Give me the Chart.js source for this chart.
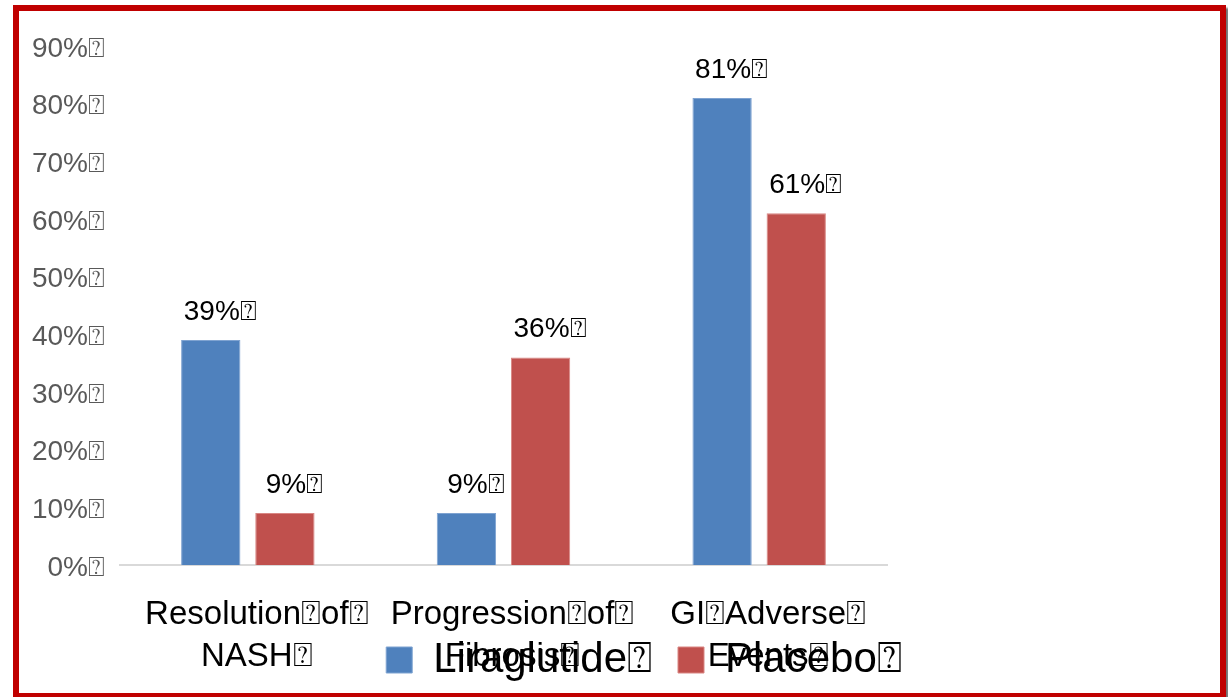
<!DOCTYPE html>
<html>
<head>
<meta charset="utf-8">
<script src="https://cdn.jsdelivr.net/npm/chart.js@4.4.1/dist/chart.umd.min.js"></script>
<style>
  html, body { margin: 0; padding: 0; background: #fff; width: 1228px; height: 697px; overflow: hidden; position: relative; }
  #c { position: absolute; left: 0; top: 0; }
  #frame { position: absolute; left: 13px; top: 5px; width: 1201px; height: 682px; border: 6px solid #C00000; box-shadow: 3px 3px 2px rgba(0,0,0,0.55); pointer-events: none; }
</style>
</head>
<body>
<canvas id="c" width="1288" height="720" style="width:1288px;height:720px"></canvas>
<div id="frame"></div>
<script>
const BOX = '\u2370';
const categories = [
  ['Resolution' + BOX + 'of' + BOX, 'NASH' + BOX],
  ['Progression' + BOX + 'of' + BOX, 'Fibrosis' + BOX],
  ['GI' + BOX + 'Adverse' + BOX, 'Events' + BOX]
];
const seriesNames = ['Liraglutide' + BOX, 'Placebo' + BOX];
const liraglutide = [39, 9, 81];
const placebo = [9, 36, 61];
const yTicks = [0, 10, 20, 30, 40, 50, 60, 70, 80, 90];

const FONT = '"Liberation Sans", Arial, sans-serif';

const valueLabels = {
  id: 'valueLabels',
  afterLayout(chart) {
    // let the category labels extend under the legend, as in the original
    chart.scales.x.bottom = chart.height;
  },
  afterDatasetsDraw(chart) {
    const ctx = chart.ctx;
    ctx.save();
    ctx.font = '28px ' + FONT;
    ctx.fillStyle = '#000000';
    ctx.textAlign = 'left';
    ctx.textBaseline = 'alphabetic';
    chart.data.datasets.forEach((ds, di) => {
      const meta = chart.getDatasetMeta(di);
      meta.data.forEach((bar, i) => {
        const num = ds.data[i] + '%';
        const w = ctx.measureText(num).width;
        ctx.fillText(num + BOX, bar.x - w / 2 + 1, bar.y - 20);
      });
    });
    ctx.restore();
  }
};

new Chart(document.getElementById('c'), {
  type: 'bar',
  data: {
    labels: categories,
    datasets: [
      { label: seriesNames[0], data: liraglutide, backgroundColor: '#4F81BD', borderColor: '#7FA3D1', borderWidth: 1, categoryPercentage: 0.58, barPercentage: 0.8 },
      { label: seriesNames[1], data: placebo, backgroundColor: '#C0504D', borderColor: '#D98683', borderWidth: 1, categoryPercentage: 0.58, barPercentage: 0.8 }
    ]
  },
  options: {
    responsive: false,
    animation: false,
    layout: { padding: { top: 46, left: 0, right: 0, bottom: 29 } },
    plugins: {
      legend: {
        position: 'bottom',
        labels: {
          boxWidth: 26, boxHeight: 26, padding: 26,
          color: '#000000',
          font: { family: FONT, size: 42 }
        }
      },
      tooltip: { enabled: false }
    },
    scales: {
      x: {
        grid: { display: false, drawTicks: false },
        border: { display: true, color: '#D9D9D9', width: 2 },
        ticks: { color: '#000000', font: { family: FONT, size: 33, lineHeight: 1.3 }, padding: 28, labelOffset: 9, maxRotation: 0, autoSkip: false },
        afterFit(s) { s.height = 48; }
      },
      y: {
        min: 0, max: 90,
        afterBuildTicks(s) { s.ticks = yTicks.map(v => ({ value: v })); },
        grid: { display: false, drawTicks: false },
        border: { display: false },
        ticks: { color: '#595959', font: { family: FONT, size: 28 }, padding: 15, labelOffset: 3, callback: v => v + '%' + BOX },
        afterFit(s) { s.width = 120; }
      },
      y2: {
        type: 'linear', position: 'right', display: true,
        grid: { display: false, drawTicks: false },
        border: { display: false },
        ticks: { display: false },
        afterFit(s) { s.width = 401; }
      }
    }
  },
  plugins: [valueLabels]
});
</script>
</body>
</html>
